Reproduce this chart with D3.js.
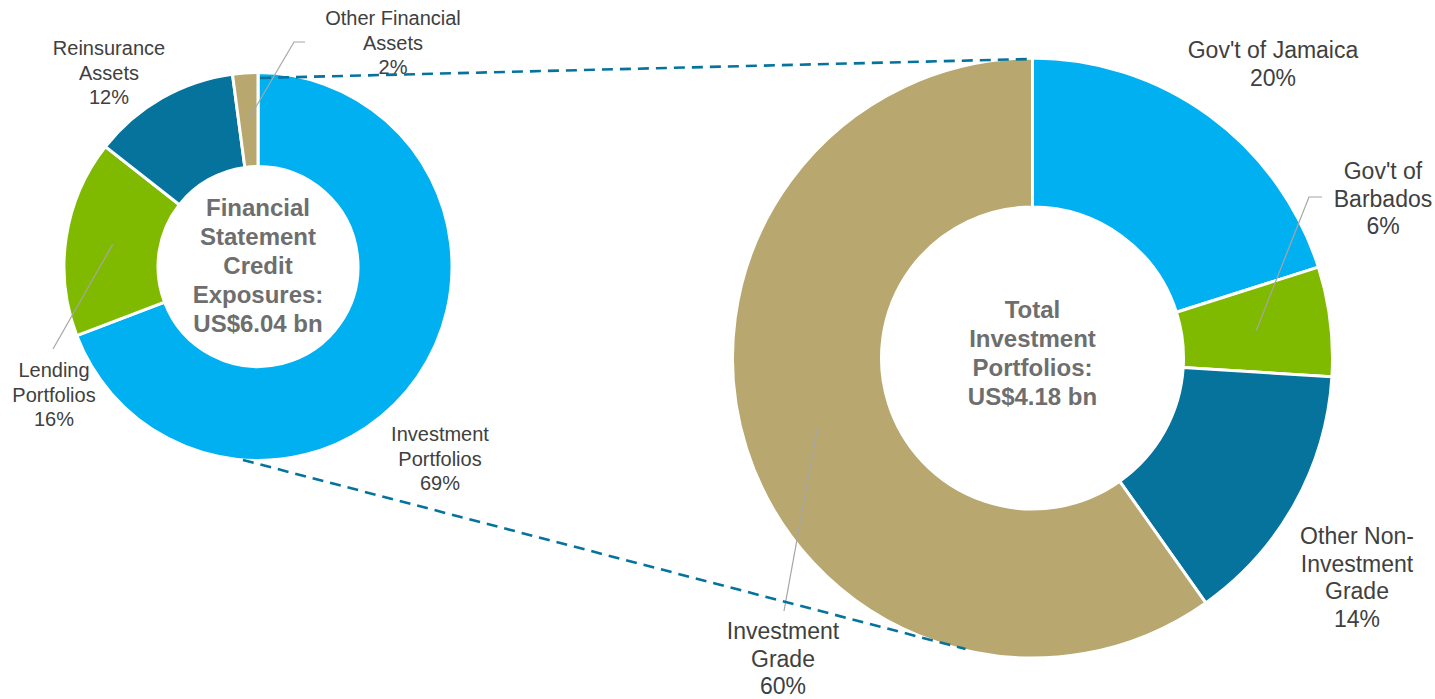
<!DOCTYPE html>
<html><head><meta charset="utf-8">
<script src="https://cdn.jsdelivr.net/npm/d3@7"></script>
<style>
html,body{margin:0;padding:0;background:#fff;}
svg{display:block;font-family:"Liberation Sans",Arial,sans-serif;}
</style></head>
<body><svg id="c" width="1435" height="699"></svg>
<script>
// ---- data ----
const leftCategories = ["Investment Portfolios","Lending Portfolios","Reinsurance Assets","Other Financial Assets"];
const leftValues = [69.2, 16.4, 12.3, 2.1];
const leftLabels = [["Investment","Portfolios","69%"],["Lending","Portfolios","16%"],["Reinsurance","Assets","12%"],["Other Financial","Assets","2%"]];
const leftCenterText = ["Financial","Statement","Credit","Exposures:","US$6.04 bn"];

const rightCategories = ["Gov't of Jamaica","Gov't of Barbados","Other Non-Investment Grade","Investment Grade"];
const rightValues = [20.1, 5.9, 14.2, 59.8];
const rightLabels = [["Gov't of Jamaica","20%"],["Gov't of","Barbados","6%"],["Other Non-","Investment","Grade","14%"],["Investment","Grade","60%"]];
const rightCenterText = ["Total","Investment","Portfolios:","US$4.18 bn"];

const colors = ["#00B0F0","#7FBA00","#05739B","#B8A86F"];

// ---- layout ----
const svg = d3.select("#c");
const L = {cx:258, cy:266.5, r0:100, r1:194, font:20, lh:24.5,
  labels:[{x:440,y:434,leader:false},{x:54,y:370,leader:true,lx:53,ly:349},{x:109,y:48,leader:false},{x:393,y:18,leader:true,lx:294,ly:42,hx:305}],
  centerY:[208,237,266,295,324]};
const R = {cx:1032.5, cy:358, r0:151, r1:300, font:23, lh:27.5,
  labels:[{x:1273,y:50,leader:false},{x:1383,y:171,leader:true,lx:1309,ly:197,hx:1322},{x:1357,y:536,leader:false},{x:783,y:631,leader:true,lx:784,ly:611}],
  centerY:[310,339,368,397]};

function donut(cfg, values, labels, centerText){
  const pie = d3.pie().sort(null).value(d=>d);
  const arcs = pie(values);
  const arc = d3.arc().innerRadius(cfg.r0).outerRadius(cfg.r1);
  const g = svg.append("g").attr("transform",`translate(${cfg.cx},${cfg.cy})`);
  g.selectAll("path").data(arcs).join("path")
    .attr("d",arc).attr("fill",(d,i)=>colors[i])
    .attr("stroke","#fff").attr("stroke-width",3).attr("stroke-linejoin","miter");
  // leaders
  arcs.forEach((a,i)=>{
    const lb = cfg.labels[i];
    if(!lb.leader) return;
    const c = arc.centroid(a);
    const pts = [];
    if(lb.hx!==undefined) pts.push([lb.hx,lb.ly]);
    pts.push([lb.lx,lb.ly]);
    pts.push([cfg.cx+c[0], cfg.cy+c[1]]);
    svg.append("path").attr("d",d3.line()(pts)).attr("fill","none")
      .attr("stroke","#A6A6A6").attr("stroke-width",1.2);
  });
  // labels
  labels.forEach((lines,i)=>{
    const lb = cfg.labels[i];
    const t = svg.append("text").attr("text-anchor","middle").attr("fill","#404040")
      .attr("font-size",cfg.font);
    lines.forEach((s,j)=>{
      t.append("tspan").attr("x",lb.x).attr("y",lb.y+j*cfg.lh).attr("dy","0.35em").text(s);
    });
  });
  // center text
  const ct = svg.append("text").attr("text-anchor","middle").attr("fill","#6E6E6E")
    .attr("font-size",24).attr("font-weight","bold");
  centerText.forEach((s,j)=>{
    ct.append("tspan").attr("x",cfg.cx).attr("y",cfg.centerY[j]).attr("dy","0.35em").text(s);
  });
}
donut(L, leftValues, leftLabels, leftCenterText);
donut(R, rightValues, rightLabels, rightCenterText);

// dashed connectors
const dash = svg.append("g").attr("fill","none").attr("stroke","#05739B").attr("stroke-width",2.6).attr("stroke-dasharray","11,7");
dash.append("line").attr("x1",L.cx+2).attr("y1",L.cy-L.r1+5.5).attr("x2",R.cx-2).attr("y2",R.cy-R.r1+1);
dash.append("line").attr("x1",L.cx-15).attr("y1",L.cy+L.r1-0.5).attr("x2",R.cx-67).attr("y2",R.cy+R.r1-9);
</script></body></html>
